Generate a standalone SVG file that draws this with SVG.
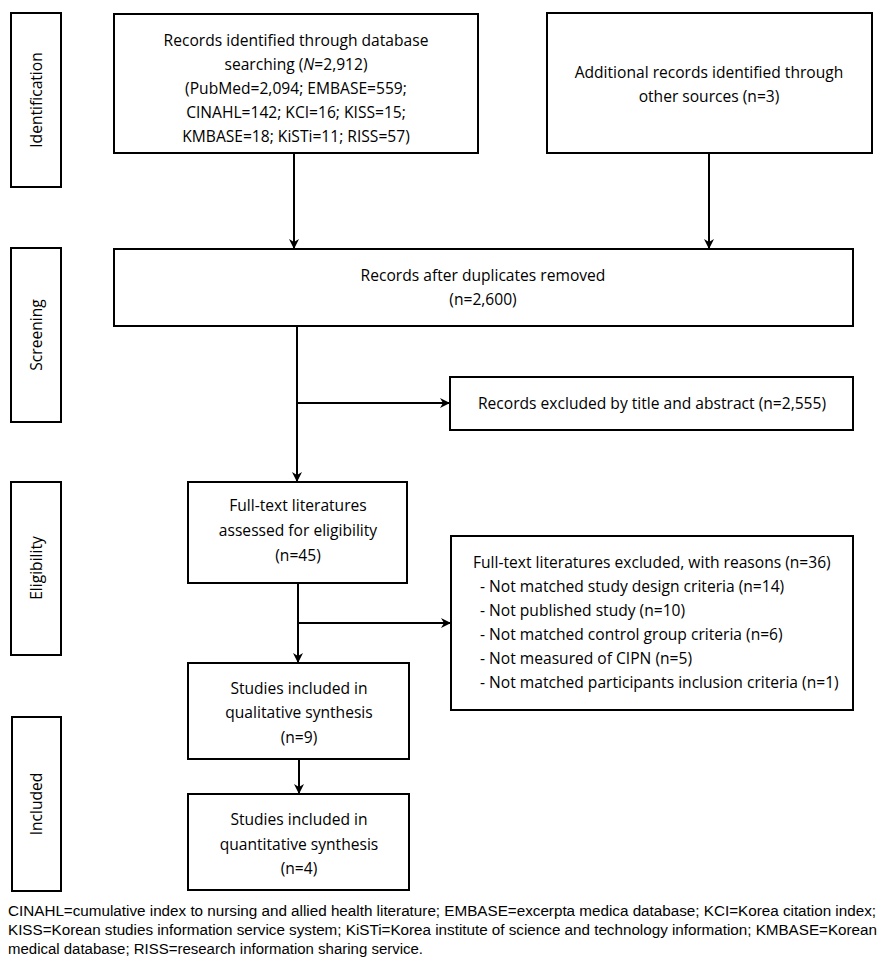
<svg xmlns="http://www.w3.org/2000/svg" width="880" height="959" viewBox="0 0 880 959">
<defs>
<marker id="ah" markerWidth="10" markerHeight="10" refX="9" refY="5" orient="auto" markerUnits="userSpaceOnUse">
<path d="M0,0 L10,5 L0,10 L3,5 Z" fill="#000"/>
</marker>
<style>
.box{fill:#fff;stroke:#000;stroke-width:2}
.t{font-family:"Open Sans","Liberation Sans",sans-serif;font-size:15.6px;fill:#000}
.c{text-anchor:middle}
.ln{fill:none;stroke:#000;stroke-width:2}
.fn{font-family:"Liberation Sans",Arial,sans-serif;font-size:14px;fill:#000}
</style>
</defs>
<rect width="880" height="959" fill="#fff"/>

<g id="stage-identification">
<rect class="box" x="11" y="13" width="50" height="174"/>
<text class="t c" transform="translate(42,100) rotate(-90)">Identification</text>
</g>
<g id="stage-screening">
<rect class="box" x="11" y="248" width="50" height="174"/>
<text class="t c" transform="translate(42,335) rotate(-90)">Screening</text>
</g>
<g id="stage-eligibility">
<rect class="box" x="11" y="482" width="50" height="173"/>
<text class="t c" transform="translate(42,568) rotate(-90)">Eligibility</text>
</g>
<g id="stage-included">
<rect class="box" x="12" y="717" width="49" height="174"/>
<text class="t c" transform="translate(42,804) rotate(-90)">Included</text>
</g>

<g id="db-records">
<rect class="box" x="114" y="14" width="364" height="139"/>
<text class="t c" x="296" y="46">Records identified through database</text>
<text class="t c" x="296" y="70">searching (<tspan font-style="italic">N</tspan>=2,912)</text>
<text class="t c" x="296" y="94">(PubMed=2,094; EMBASE=559;</text>
<text class="t c" x="296" y="118">CINAHL=142; KCI=16; KISS=15;</text>
<text class="t c" x="296" y="142">KMBASE=18; KiSTi=11; RISS=57)</text>
</g>
<g id="other-records">
<rect class="box" x="547" y="13" width="325" height="140"/>
<text class="t c" x="709" y="78">Additional records identified through</text>
<text class="t c" x="709" y="102">other sources (n=3)</text>
</g>
<g id="dedup">
<rect class="box" x="114" y="249" width="739" height="77"/>
<text class="t c" x="483" y="281">Records after duplicates removed</text>
<text class="t c" x="483" y="305">(n=2,600)</text>
</g>
<g id="excluded-title">
<rect class="box" x="450" y="377" width="403" height="53"/>
<text class="t c" x="652" y="409">Records excluded by title and abstract (n=2,555)</text>
</g>
<g id="fulltext">
<rect class="box" x="188" y="482" width="219" height="101"/>
<text class="t c" x="298" y="511">Full-text literatures</text>
<text class="t c" x="298" y="536">assessed for eligibility</text>
<text class="t c" x="298" y="561">(n=45)</text>
</g>
<g id="excluded-fulltext">
<rect class="box" x="451" y="536" width="402" height="174"/>
<text class="t" x="473" y="568">Full-text literatures excluded, with reasons (n=36)</text>
<text class="t" x="480" y="592">- Not matched study design criteria (n=14)</text>
<text class="t" x="480" y="616">- Not published study (n=10)</text>
<text class="t" x="480" y="640">- Not matched control group criteria (n=6)</text>
<text class="t" x="480" y="664">- Not measured of CIPN (n=5)</text>
<text class="t" x="480" y="688">- Not matched participants inclusion criteria (n=1)</text>
</g>
<g id="qualitative">
<rect class="box" x="188" y="663" width="221" height="96"/>
<text class="t c" x="299" y="694">Studies included in</text>
<text class="t c" x="299" y="718">qualitative synthesis</text>
<text class="t c" x="299" y="743">(n=9)</text>
</g>
<g id="quantitative">
<rect class="box" x="188" y="794" width="221" height="96"/>
<text class="t c" x="299" y="825">Studies included in</text>
<text class="t c" x="299" y="850">quantitative synthesis</text>
<text class="t c" x="299" y="874">(n=4)</text>
</g>

<g id="connectors">
<line class="ln" x1="294" y1="153" x2="294" y2="248" marker-end="url(#ah)"/>
<line class="ln" x1="709" y1="153" x2="709" y2="248" marker-end="url(#ah)"/>
<line class="ln" x1="297" y1="326" x2="297" y2="481" marker-end="url(#ah)"/>
<line class="ln" x1="297" y1="403" x2="449" y2="403" marker-end="url(#ah)"/>
<line class="ln" x1="298" y1="583" x2="298" y2="662" marker-end="url(#ah)"/>
<line class="ln" x1="298" y1="623" x2="450" y2="623" marker-end="url(#ah)"/>
<line class="ln" x1="299" y1="759" x2="299" y2="793" marker-end="url(#ah)"/>
</g>

<g id="footnote">
<text class="fn" x="8" y="916" textLength="868" lengthAdjust="spacingAndGlyphs">CINAHL=cumulative index to nursing and allied health literature; EMBASE=excerpta medica database; KCI=Korea citation index;</text>
<text class="fn" x="8" y="935" textLength="869" lengthAdjust="spacingAndGlyphs">KISS=Korean studies information service system; KiSTi=Korea institute of science and technology information; KMBASE=Korean</text>
<text class="fn" x="8" y="954" textLength="415" lengthAdjust="spacingAndGlyphs">medical database; RISS=research information sharing service.</text>
</g>
</svg>
